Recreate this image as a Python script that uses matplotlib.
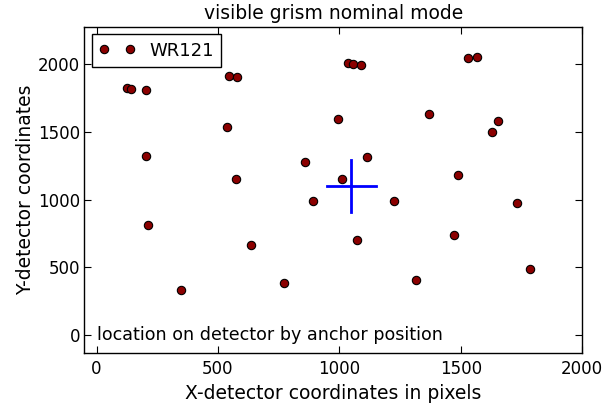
import matplotlib
matplotlib.use("Agg")
import matplotlib.pyplot as plt

x_pos = [127, 140, 205, 205, 214, 349, 538, 546, 579, 575, 637, 772, 859, 892,
         994, 1011, 1035, 1056, 1089, 1113, 1072, 1224, 1315, 1368, 1471, 1487,
         1532, 1565, 1627, 1652, 1730, 1787]
y_pos = [1823, 1815, 1808, 1321, 812, 332, 1535, 1911, 1904, 1151, 664, 384,
         1277, 989, 1594, 1151, 2007, 2000, 1993, 1314, 701, 989, 406, 1631,
         738, 1181, 2044, 2052, 1498, 1579, 974, 487]
cross_center = (1050, 1100)
cross_half_x = 100
cross_half_y = 190

fig = plt.figure(figsize=(6.16, 4.04), dpi=100, facecolor="white")
ax = fig.add_axes([0.137, 0.127, 0.808, 0.806])
ax.plot(x_pos, y_pos, "o", color="darkred", markeredgecolor="black",
        markersize=6, markeredgewidth=0.8, label="WR121")
cx, cy = cross_center
ax.plot([cx - cross_half_x, cx + cross_half_x], [cy, cy], color="blue", lw=2)
ax.plot([cx, cx], [cy - cross_half_y, cy + cross_half_y], color="blue", lw=2)
ax.set_xlim(-50, 2000)
ax.set_ylim(-130, 2273)
ax.set_xticks([0, 500, 1000, 1500, 2000])
ax.set_yticks([0, 500, 1000, 1500, 2000])
ax.tick_params(direction="in", top=True, right=True, length=5, labelsize=12)
ax.tick_params(axis="x", pad=5.5)
ax.tick_params(axis="y", pad=3)
for s in ax.spines.values():
    s.set_linewidth(1.0)
ax.set_xlabel("X-detector coordinates in pixels", fontsize=13.5)
ax.set_ylabel("Y-detector coordinates", fontsize=13.5, labelpad=2)
ax.set_title("visible grism nominal mode", fontsize=13.5)
ax.text(0.0, 0.0, "location on detector by anchor position", fontsize=12.6,
        transform=ax.transData, va="center", ha="left")
leg = ax.legend(loc="upper left", numpoints=2, fontsize=13, fancybox=False,
                framealpha=1, borderaxespad=0.4, handlelength=2.0)
leg.get_frame().set_edgecolor("black")
fig.savefig("out.png", dpi=100, facecolor="white")
